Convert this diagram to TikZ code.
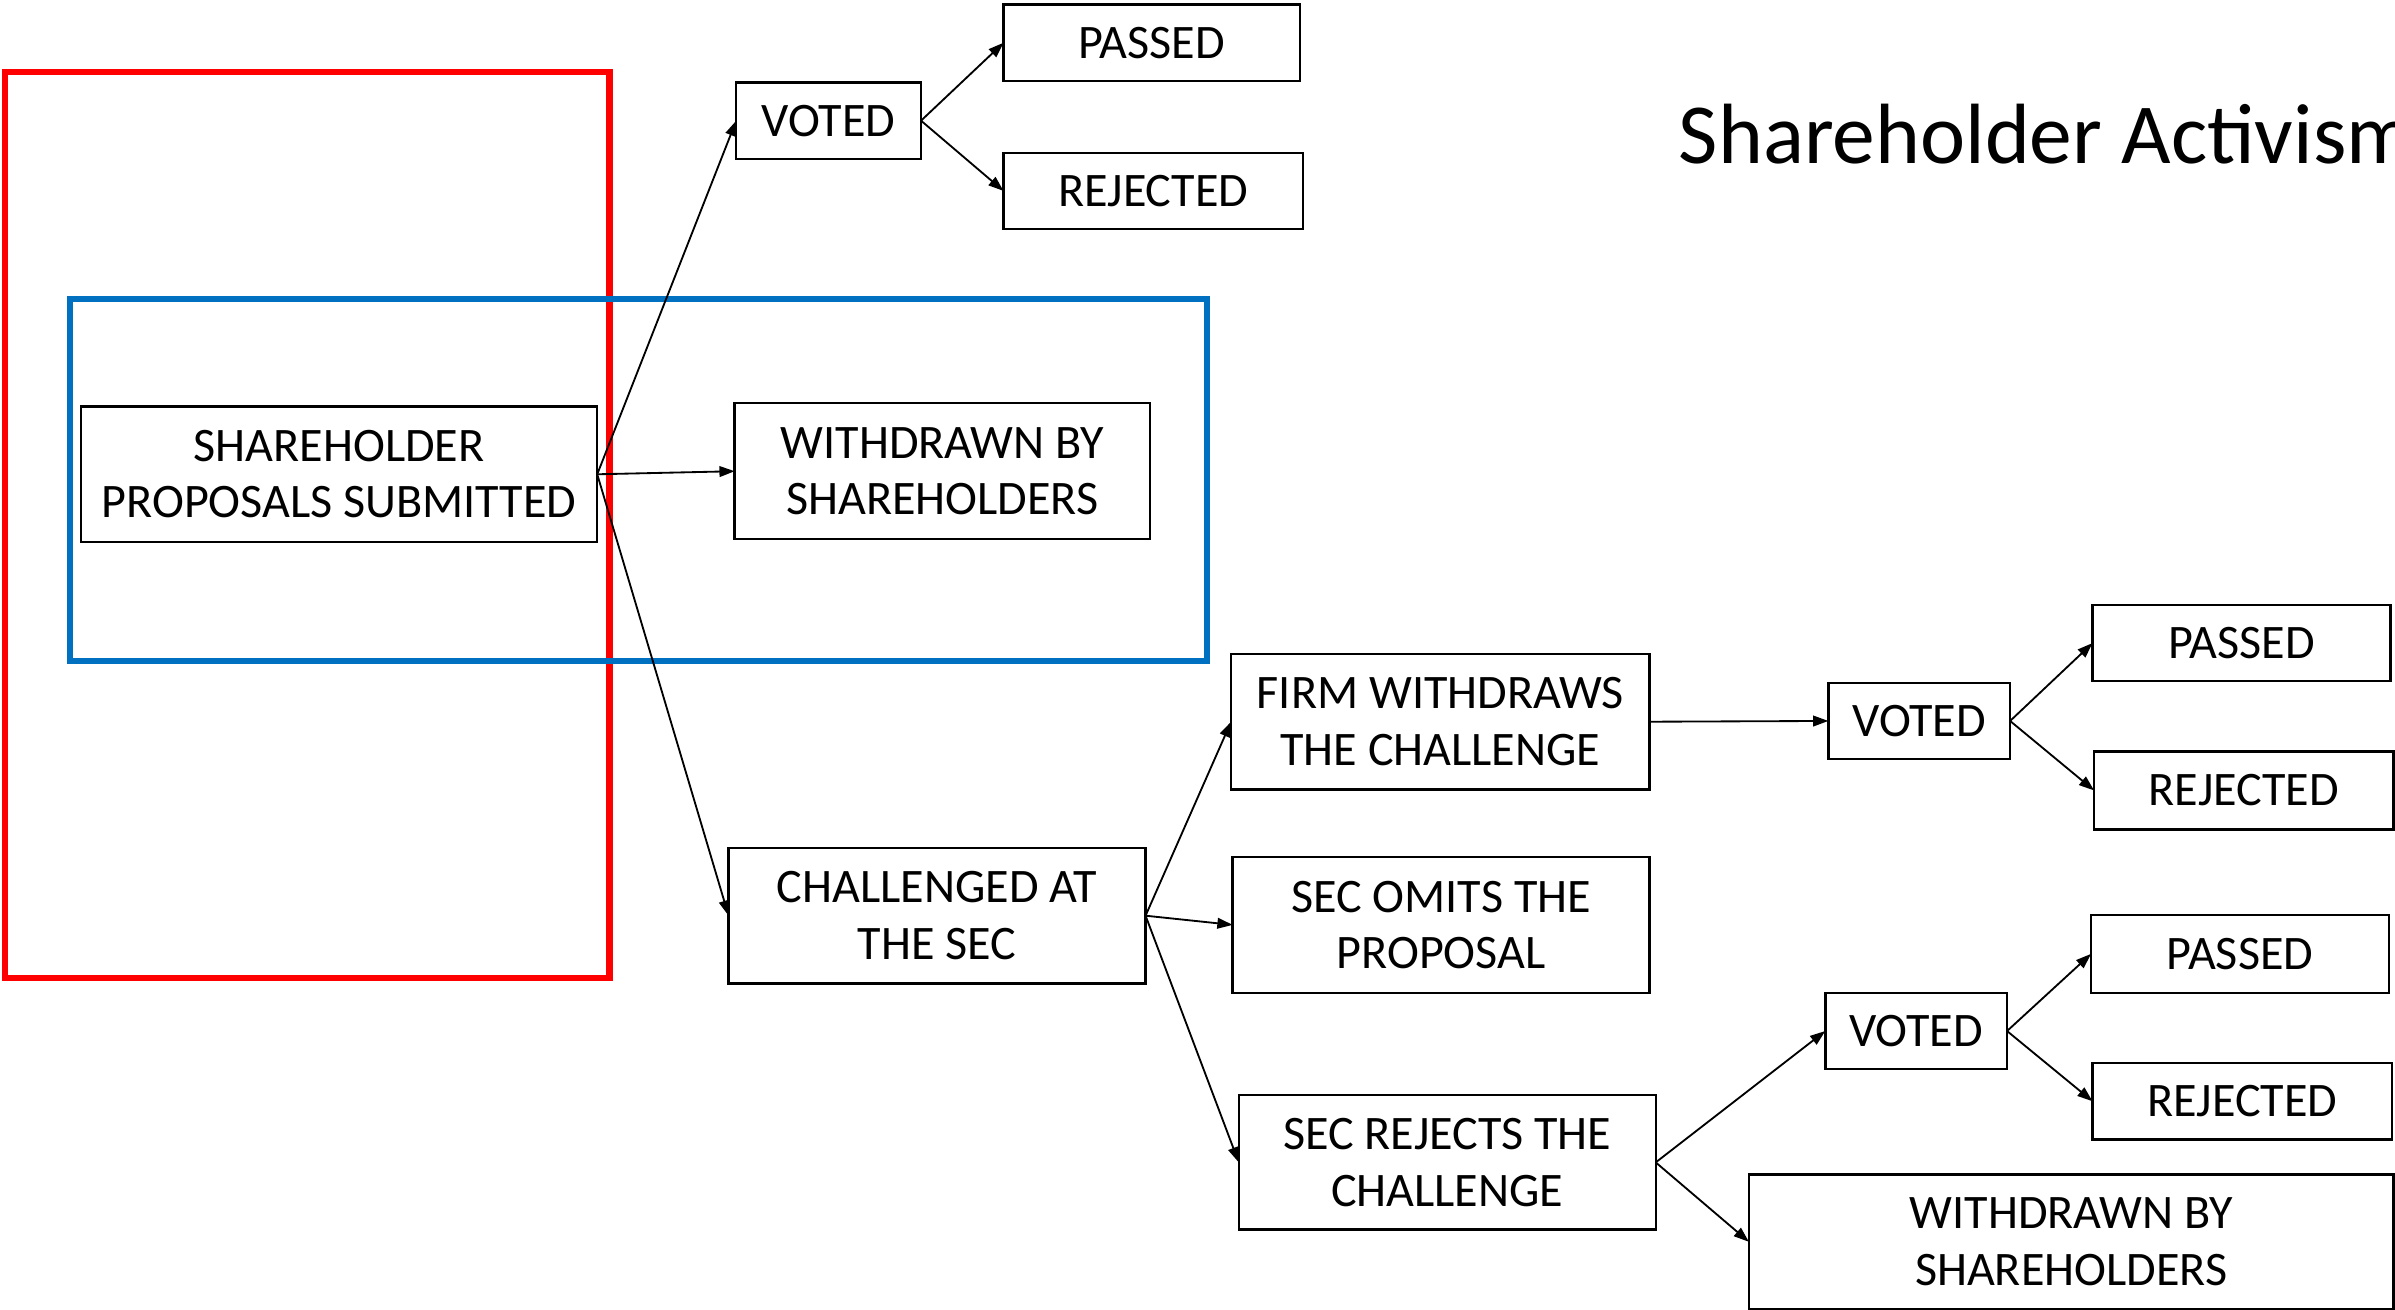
\documentclass[tikz,border=0pt]{standalone}
\usepackage{fontspec}
\setmainfont{Carlito}
\usetikzlibrary{arrows.meta}
\definecolor{frameRed}{RGB}{255,0,0}
\definecolor{frameBlue}{RGB}{0,112,192}
\begin{document}
\begin{tikzpicture}[x=1pt,y=-1pt,
  box/.style={draw, line width=1.6pt, inner sep=0pt, outer sep=0pt, align=center,
    font=\fontsize{31.5}{37}\selectfont},
  link/.style={line width=1.2pt, -{Triangle[length=10pt,width=7pt]}},
  frame/.style={line width=4pt},
]
\useasboundingbox (0,0) rectangle (1568,857);
\fill[white] (0,0) rectangle (1568,857);

% highlight frames
\draw[frame, frameRed] (3,47) rectangle (399,640);
\draw[frame, frameBlue] (46,196) rectangle (790,433);

% title
\node[anchor=base west, inner sep=0pt, font=\fontsize{56}{60}\selectfont] (title) at (1099,107) {Shareholder Activism};

% first level
\node[box, minimum width=338pt, minimum height=89pt] (sps) at (222,310.5) {SHAREHOLDER\\PROPOSALS SUBMITTED};
\node[box, minimum width=272pt, minimum height=89pt] (wd1) at (617,308.5) {WITHDRAWN BY\\SHAREHOLDERS};
\node[box, minimum width=121pt, minimum height=50pt] (v1) at (542.5,79) {VOTED};
\node[box, minimum width=194pt, minimum height=50pt] (p1) at (754,28) {PASSED};
\node[box, minimum width=196pt, minimum height=50pt] (r1) at (755,125) {REJECTED};
\node[box, minimum width=273pt, minimum height=89pt] (ch) at (613.5,599.5) {CHALLENGED AT\\THE SEC};

% SEC outcomes
\node[box, minimum width=274pt, minimum height=89pt] (fw) at (943,472.5) {FIRM WITHDRAWS\\THE CHALLENGE};
\node[box, minimum width=273pt, minimum height=89pt] (so) at (943.5,605.5) {SEC OMITS THE\\PROPOSAL};
\node[box, minimum width=273pt, minimum height=88pt] (sr) at (947.5,761) {SEC REJECTS THE\\CHALLENGE};

% votes after the challenge is withdrawn
\node[box, minimum width=119pt, minimum height=50pt] (v2) at (1256.5,472) {VOTED};
\node[box, minimum width=195pt, minimum height=50pt] (p2) at (1467.5,421) {PASSED};
\node[box, minimum width=196pt, minimum height=51pt] (r2) at (1469,517.5) {REJECTED};

% votes after the challenge is rejected
\node[box, minimum width=119pt, minimum height=50pt] (v3) at (1254.5,675) {VOTED};
\node[box, minimum width=195pt, minimum height=51pt] (p3) at (1466.5,624.5) {PASSED};
\node[box, minimum width=196pt, minimum height=50pt] (r3) at (1468,721) {REJECTED};
\node[box, minimum width=422pt, minimum height=88pt] (wd2) at (1356,813) {WITHDRAWN BY\\SHAREHOLDERS};

% connectors
\draw[link] (sps.east) -- (v1.west);
\draw[link] (sps.east) -- (wd1.west);
\draw[link] (sps.east) -- (ch.west);
\draw[link] (v1.east) -- (p1.west);
\draw[link] (v1.east) -- (r1.west);
\draw[link] (ch.east) -- (fw.west);
\draw[link] (ch.east) -- (so.west);
\draw[link] (ch.east) -- (sr.west);
\draw[link] (fw.east) -- (v2.west);
\draw[link] (v2.east) -- (p2.west);
\draw[link] (v2.east) -- (r2.west);
\draw[link] (sr.east) -- (v3.west);
\draw[link] (sr.east) -- (wd2.west);
\draw[link] (v3.east) -- (p3.west);
\draw[link] (v3.east) -- (r3.west);
\end{tikzpicture}
\end{document}
